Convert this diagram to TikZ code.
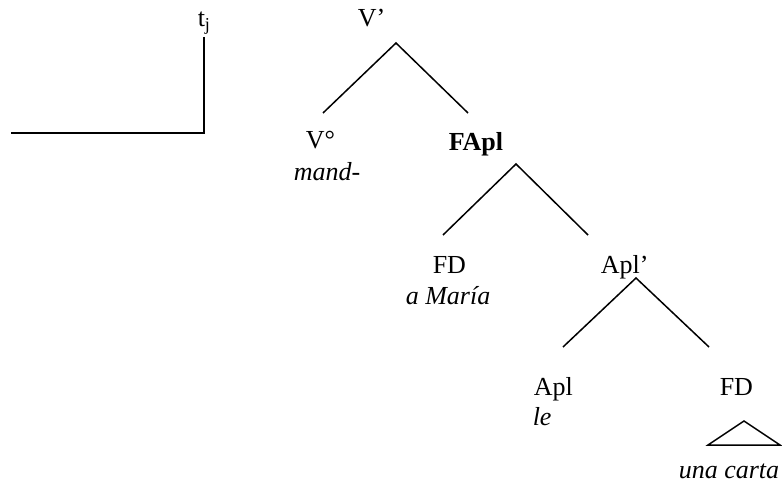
\documentclass[tikz,border=0pt]{standalone}
\usepackage{fontspec}
\setmainfont{Liberation Serif}

\begin{document}
\begin{tikzpicture}[x=1pt,y=-1pt,line width=1.5pt,
  lbl/.style={anchor=base west,inner sep=0pt,font=\fontsize{26}{30}\selectfont}]
  \useasboundingbox (0,0) rectangle (782,492);

  % movement trace
  \node[lbl] (tj) at (197,27) {t\textsubscript{j}};
  \coordinate (tjtop) at (204,37);
  \coordinate (tjfoot) at (204,133);
  \coordinate (tjtail) at (11,133);
  \draw (tjtop) -- (tjfoot) -- (tjtail);

  % V' level
  \node[lbl] (vbar) at (357,27) {V’};
  \node[lbl] (v0) at (305,149) {V°};
  \node[lbl] (mand) at (293,180) {\itshape mand-};
  \node[lbl] (fapl) at (448,150) {\bfseries FApl};
  \coordinate (vbarfoot) at (396,43);
  \coordinate (v0top) at (323,113);
  \coordinate (fapltop) at (468,113);
  \draw (v0top) -- (vbarfoot) -- (fapltop);

  % FApl level
  \node[lbl] (fdm) at (432,273) {FD};
  \node[lbl] (maria) at (405,304) {\itshape a María};
  \node[lbl] (aplbar) at (600,273) {Apl’};
  \coordinate (faplfoot) at (516,164);
  \coordinate (fdmtop) at (443,235);
  \coordinate (aplbartop) at (588,235);
  \draw (fdmtop) -- (faplfoot) -- (aplbartop);

  % Apl' level
  \node[lbl] (apl) at (533,395) {Apl};
  \node[lbl] (le) at (532,425) {\itshape le};
  \node[lbl] (fdc) at (719,395) {FD};
  \node[lbl] (carta) at (678,478) {\itshape una carta};
  \coordinate (aplbarfoot) at (636,278);
  \coordinate (apltop) at (563,347);
  \coordinate (fdctop) at (709,347);
  \draw (apltop) -- (aplbarfoot) -- (fdctop);

  % roof over the object
  \coordinate (roof) at (744,421);
  \coordinate (roofl) at (708,445);
  \coordinate (roofr) at (780,445);
  \draw (roof) -- (roofl) -- (roofr) -- cycle;
\end{tikzpicture}
\end{document}
